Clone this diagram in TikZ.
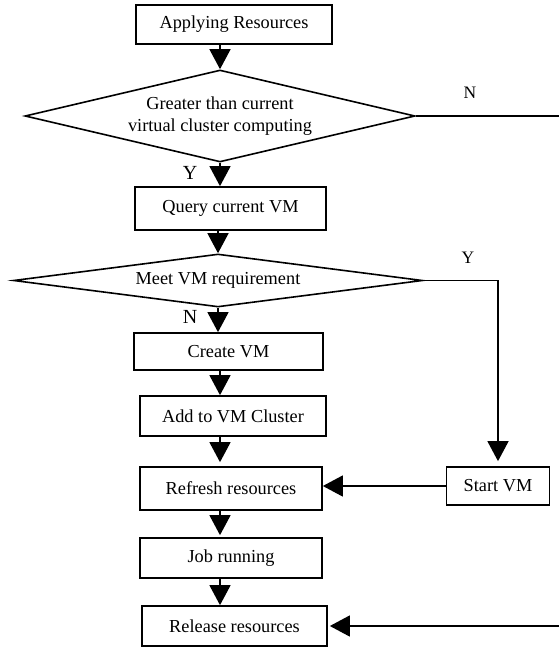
\documentclass[tikz,border=0pt]{standalone}
\usepackage{fontspec}
\setmainfont{Liberation Serif}
\usetikzlibrary{shapes.geometric,arrows.meta}
\begin{document}
\begin{tikzpicture}[x=1pt,y=-1pt,
  every node/.style={font=\fontsize{18.3}{22}\selectfont},
  box/.style={draw,line width=1.7pt,inner sep=0pt,align=center},
  dec/.style={draw,diamond,line width=1.6pt,inner sep=0pt,align=center},
  lbl/.style={inner sep=0pt,font=\fontsize{17.5}{20}\selectfont},
  biglbl/.style={inner sep=0pt,font=\fontsize{20}{22}\selectfont},
  conn/.style={line width=1.4pt},
  arr/.style={line width=1.4pt,-{Triangle[width=21pt,length=20pt]}}]
\useasboundingbox (0,0) rectangle (559,647);
% boxes
\node[box,minimum width=196pt,minimum height=39pt] (app) at (234,24.5) {Applying Resources};
\node[dec,aspect=4.2,minimum width=390pt,minimum height=92pt] (d1) at (220,116) {Greater than current\\virtual cluster computing};
\node[box,minimum width=191pt,minimum height=43pt] (query) at (230.5,208.5) {Query current VM};
\node[dec,aspect=7.7,minimum width=409pt,minimum height=53pt] (d2) at (218,280.5) {Meet VM requirement};
\node[box,minimum width=189pt,minimum height=37pt] (create) at (228.5,351.5) {Create VM};
\node[box,minimum width=186pt,minimum height=40pt] (add) at (233,416) {Add to VM Cluster};
\node[box,minimum width=182pt,minimum height=43pt] (refresh) at (231,488.5) {Refresh resources};
\node[box,minimum width=182pt,minimum height=40pt] (job) at (231,558) {Job running};
\node[box,minimum width=185pt,minimum height=40pt] (release) at (234.5,626) {Release resources};
\node[box,minimum width=103pt,minimum height=38pt] (start) at (498,486) {Start VM};
% free ends at the right edge
\coordinate (nend) at (559,116);
\coordinate (rend) at (559,626);
% labels
\node[lbl] (ln1) at (470,93) {N};
\node[biglbl] (ly1) at (190,173) {Y};
\node[lbl] (ly2) at (468,258) {Y};
\node[biglbl] (ln2) at (190,317) {N};
% connectors
\draw[arr] (app.south -| d1.north) -- (d1.north);
\draw[arr] (d1.south) -- (d1.south |- query.north);
\draw[arr] (query.south -| d2.north) -- (d2.north);
\draw[arr] (d2.south) -- (d2.south |- create.north);
\draw[arr] (create.south -| d1.north) -- (add.north -| d1.north);
\draw[arr,shorten >=4pt] (add.south -| d1.north) -- (refresh.north -| d1.north);
\draw[arr,shorten >=2pt] (refresh.south -| d1.north) -- (job.north -| d1.north);
\draw[arr] (job.south -| d1.north) -- (release.north -| d1.north);
\draw[conn] (d1.east) -- (nend);
\draw[arr,shorten >=5pt] (d2.east) -| (start.north);
\draw[arr] (start.west) -- (start.west -| refresh.east);
\draw[arr,shorten >=2pt] (rend) -- (release.east);
\end{tikzpicture}
\end{document}
